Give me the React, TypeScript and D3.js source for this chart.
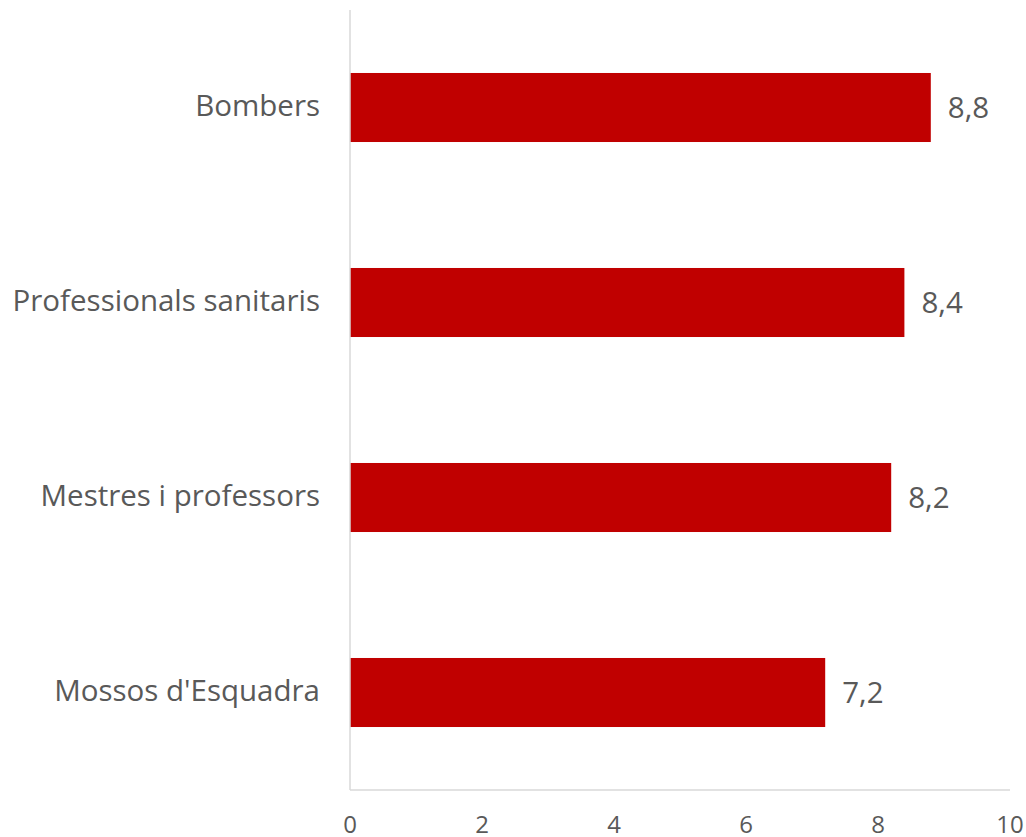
import React from "react";
import * as d3 from "d3";

const categories = ["Bombers", "Professionals sanitaris", "Mestres i professors", "Mossos d'Esquadra"];
const values = [8.8, 8.4, 8.2, 7.2];
const valueLabels = ["8,8", "8,4", "8,2", "7,2"];
const xTicks = [0, 2, 4, 6, 8, 10];

export default function App() {
  const width = 1026;
  const height = 837;
  const left = 350;
  const right = 1010;
  const top = 10;
  const bottom = 790;
  const x = d3.scaleLinear().domain([0, 10]).range([left, right]);
  const y = d3
    .scaleBand<string>()
    .domain(categories)
    .range([top, bottom])
    .paddingInner(0.646)
    .paddingOuter(0.323);
  const font = "'Open Sans', sans-serif";
  const textColor = "#595959";
  return (
    <svg
      width={width}
      height={height}
      style={{ position: "absolute", left: 0, top: 0, background: "#fff" }}
      fontFamily={font}
    >
      {categories.map((c, i) => (
        <g key={c}>
          <rect
            x={x(0)}
            y={y(c)!}
            width={x(values[i]) - x(0)}
            height={y.bandwidth()}
            fill="#C00000"
          />
          <text
            x={left - 30}
            y={y(c)! + y.bandwidth() / 2 + 8}
            textAnchor="end"
            fontSize={29.5}
            fill={textColor}
          >
            {c}
          </text>
          <text
            x={x(values[i]) + 17}
            y={y(c)! + y.bandwidth() / 2 + 10}
            fontSize={29.5}
            fill={textColor}
          >
            {valueLabels[i]}
          </text>
        </g>
      ))}
      <line x1={left} x2={left} y1={top} y2={bottom} stroke="#d9d9d9" strokeWidth={1.5} />
      <line x1={left} x2={right} y1={bottom} y2={bottom} stroke="#d9d9d9" strokeWidth={1.5} />
      {xTicks.map((t) => (
        <text
          key={t}
          x={x(t)}
          y={833}
          textAnchor="middle"
          fontSize={24}
          fill={textColor}
        >
          {t}
        </text>
      ))}
    </svg>
  );
}
